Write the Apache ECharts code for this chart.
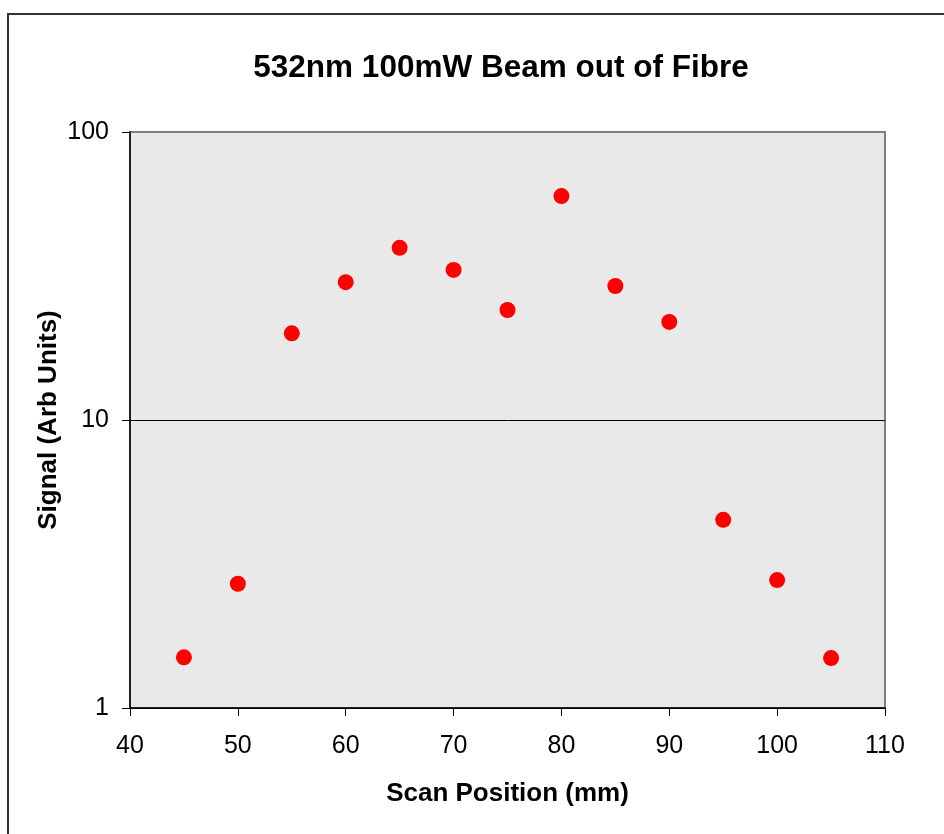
<!DOCTYPE html>
<html>
<head>
<meta charset="utf-8">
<script src="https://cdn.jsdelivr.net/npm/echarts@6/dist/echarts.min.js"></script>
<style>html,body{margin:0;padding:0;background:#fff}#c{width:944px;height:834px}</style>
</head>
<body>
<div id="c"></div>
<script>
var positions = [45, 50, 55, 60, 65, 70, 75, 80, 85, 90, 95, 100, 105];
var signal = [1.50, 2.70, 20.0, 30.1, 39.6, 33.2, 24.1, 59.9, 29.2, 21.9, 4.50, 2.78, 1.49];
var titleText = '532nm 100mW Beam out of Fibre';
var xName = 'Scan Position (mm)';
var yName = 'Signal (Arb Units)';

var chart = echarts.init(document.getElementById('c'));
var font = 'Liberation Sans, Arial, sans-serif';
chart.setOption({
  animation: false,
  backgroundColor: '#fff',
  title: {
    text: titleText,
    left: 496, top: 47, textAlign: 'center',
    textStyle: {fontFamily: font, fontSize: 31.5, fontWeight: 'bold', color: '#000'}
  },
  graphic: [{
    type: 'rect', shape: {x: 8, y: 14, width: 1000, height: 900},
    style: {fill: 'none', stroke: '#333', lineWidth: 2}, silent: true, z: -1
  }],
  grid: {
    left: 130, right: 59, top: 132, bottom: 126,
    show: true, backgroundColor: '#e9e9e9', borderColor: '#808080', borderWidth: 2
  },
  xAxis: {
    type: 'value', min: 40, max: 110, interval: 10,
    name: xName, nameLocation: 'middle', nameGap: 73, nameMoveOverlap: false,
    nameTextStyle: {fontFamily: font, fontSize: 26, fontWeight: 'bold', color: '#000'},
    axisLine: {show: true, lineStyle: {color: '#000', width: 1.5}},
    axisTick: {show: true, inside: false, length: 8, lineStyle: {color: '#000'}},
    axisLabel: {fontFamily: font, fontSize: 25, color: '#000', margin: 26},
    splitLine: {show: false}
  },
  yAxis: {
    type: 'log', logBase: 10, min: 1, max: 100,
    name: yName, nameLocation: 'middle', nameGap: 68, nameMoveOverlap: false,
    nameTextStyle: {fontFamily: font, fontSize: 26, fontWeight: 'bold', color: '#000'},
    axisLine: {show: true, lineStyle: {color: '#000', width: 1.5}},
    axisTick: {show: true, inside: false, length: 8, lineStyle: {color: '#000'}},
    axisLabel: {fontFamily: font, fontSize: 25, color: '#000', margin: 21},
    splitLine: {show: true, lineStyle: {color: ['#000', '#000', '#808080'], width: 1}},
    minorTick: {show: false}, minorSplitLine: {show: false}
  },
  series: [{
    type: 'scatter',
    data: positions.map(function (p, i) { return [p, signal[i]]; }),
    symbol: 'circle', symbolSize: 16,
    itemStyle: {color: '#ff0000', opacity: 1}
  }]
});
</script>
</body>
</html>
